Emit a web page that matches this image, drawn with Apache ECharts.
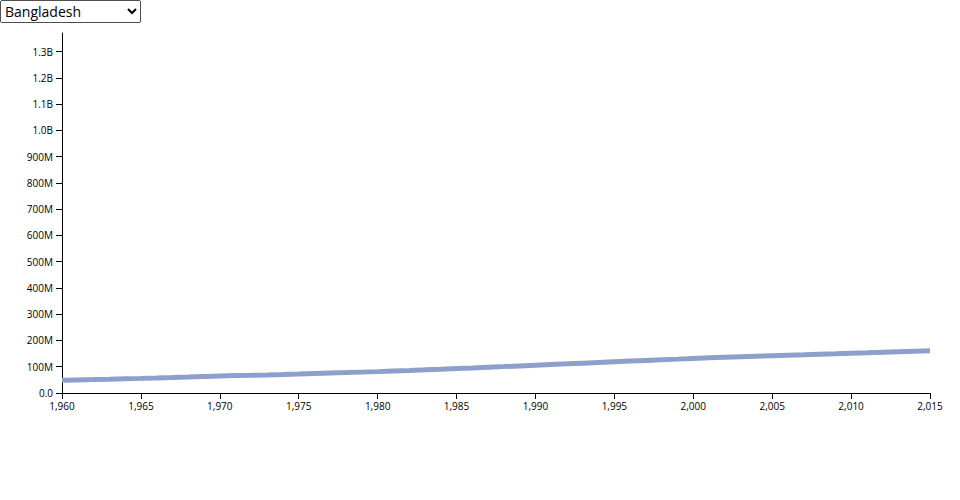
<!DOCTYPE html>
<html>
<head>
<meta charset="utf-8">
<script src="https://cdn.jsdelivr.net/npm/echarts@6/dist/echarts.min.js"></script>
<style>
  html, body { margin: 0; padding: 0; background: #fff; }
  #wrap { position: relative; width: 960px; height: 500px; }
  #chart { position: absolute; left: 0; top: 0; width: 960px; height: 500px; }
  #country { position: absolute; left: 0; top: 0; width: 141px; height: 23px; font-family: "Open Sans", sans-serif; font-size: 14px; z-index: 2; }
</style>
</head>
<body>
<div id="wrap">
  <select id="country"><option>Bangladesh</option></select>
  <div id="chart"></div>
</div>
<script>
const countryName = "Bangladesh";
const years = [1960,1961,1962,1963,1964,1965,1966,1967,1968,1969,1970,1971,1972,1973,1974,1975,1976,1977,1978,1979,1980,1981,1982,1983,1984,1985,1986,1987,1988,1989,1990,1991,1992,1993,1994,1995,1996,1997,1998,1999,2000,2001,2002,2003,2004,2005,2006,2007,2008,2009,2010,2011,2012,2013,2014,2015];
const population = [48.2,49.6,51.0,52.5,54.1,55.7,57.4,59.2,61.1,63.1,65.0,66.4,67.6,68.9,70.5,72.2,74.0,75.8,77.6,79.5,81.4,83.6,85.8,88.1,90.5,93.0,95.5,98.1,100.6,103.2,105.8,108.4,111.0,113.7,116.3,118.9,121.5,124.0,126.5,129.0,131.6,134.0,136.2,138.3,140.3,142.3,144.2,146.0,147.9,149.7,151.6,153.4,155.3,157.2,159.1,161.0].map(v => v * 1e6);
const yMax = 1.371e9;

const chart = echarts.init(document.getElementById('chart'), null, { renderer: 'svg' });
const axisText = { color: '#000', fontSize: 10, fontFamily: '"Open Sans", sans-serif' };
chart.setOption({
  animation: false,
  grid: { left: 62, right: 30, top: 33, bottom: 107, containLabel: false },
  xAxis: {
    type: 'value', min: 1960, max: 2015, interval: 5,
    axisLine: { lineStyle: { color: '#000', width: 1 } },
    axisTick: { show: true, inside: false, length: 6, lineStyle: { color: '#000' } },
    axisLabel: Object.assign({ margin: 8, formatter: v => v.toLocaleString('en-US') }, axisText),
    splitLine: { show: false }
  },
  yAxis: {
    type: 'value', min: 0, max: yMax, interval: 1e8,
    axisLine: { show: true, lineStyle: { color: '#000', width: 1 } },
    axisTick: { show: true, inside: false, length: 6, lineStyle: { color: '#000' } },
    axisLabel: Object.assign({ margin: 9, showMaxLabel: false, formatter: v => {
      if (v === 0) return '0.0';
      if (v < 1e9) return Math.round(v / 1e6) + 'M';
      return (v / 1e9).toFixed(1) + 'B';
    } }, axisText),
    splitLine: { show: false }
  },
  series: [{
    name: countryName,
    type: 'line',
    data: years.map((y, i) => [y, population[i]]),
    showSymbol: false,
    lineStyle: { color: '#8da0cb', width: 5 },
    itemStyle: { color: '#8da0cb' }
  }]
});
</script>
</body>
</html>
